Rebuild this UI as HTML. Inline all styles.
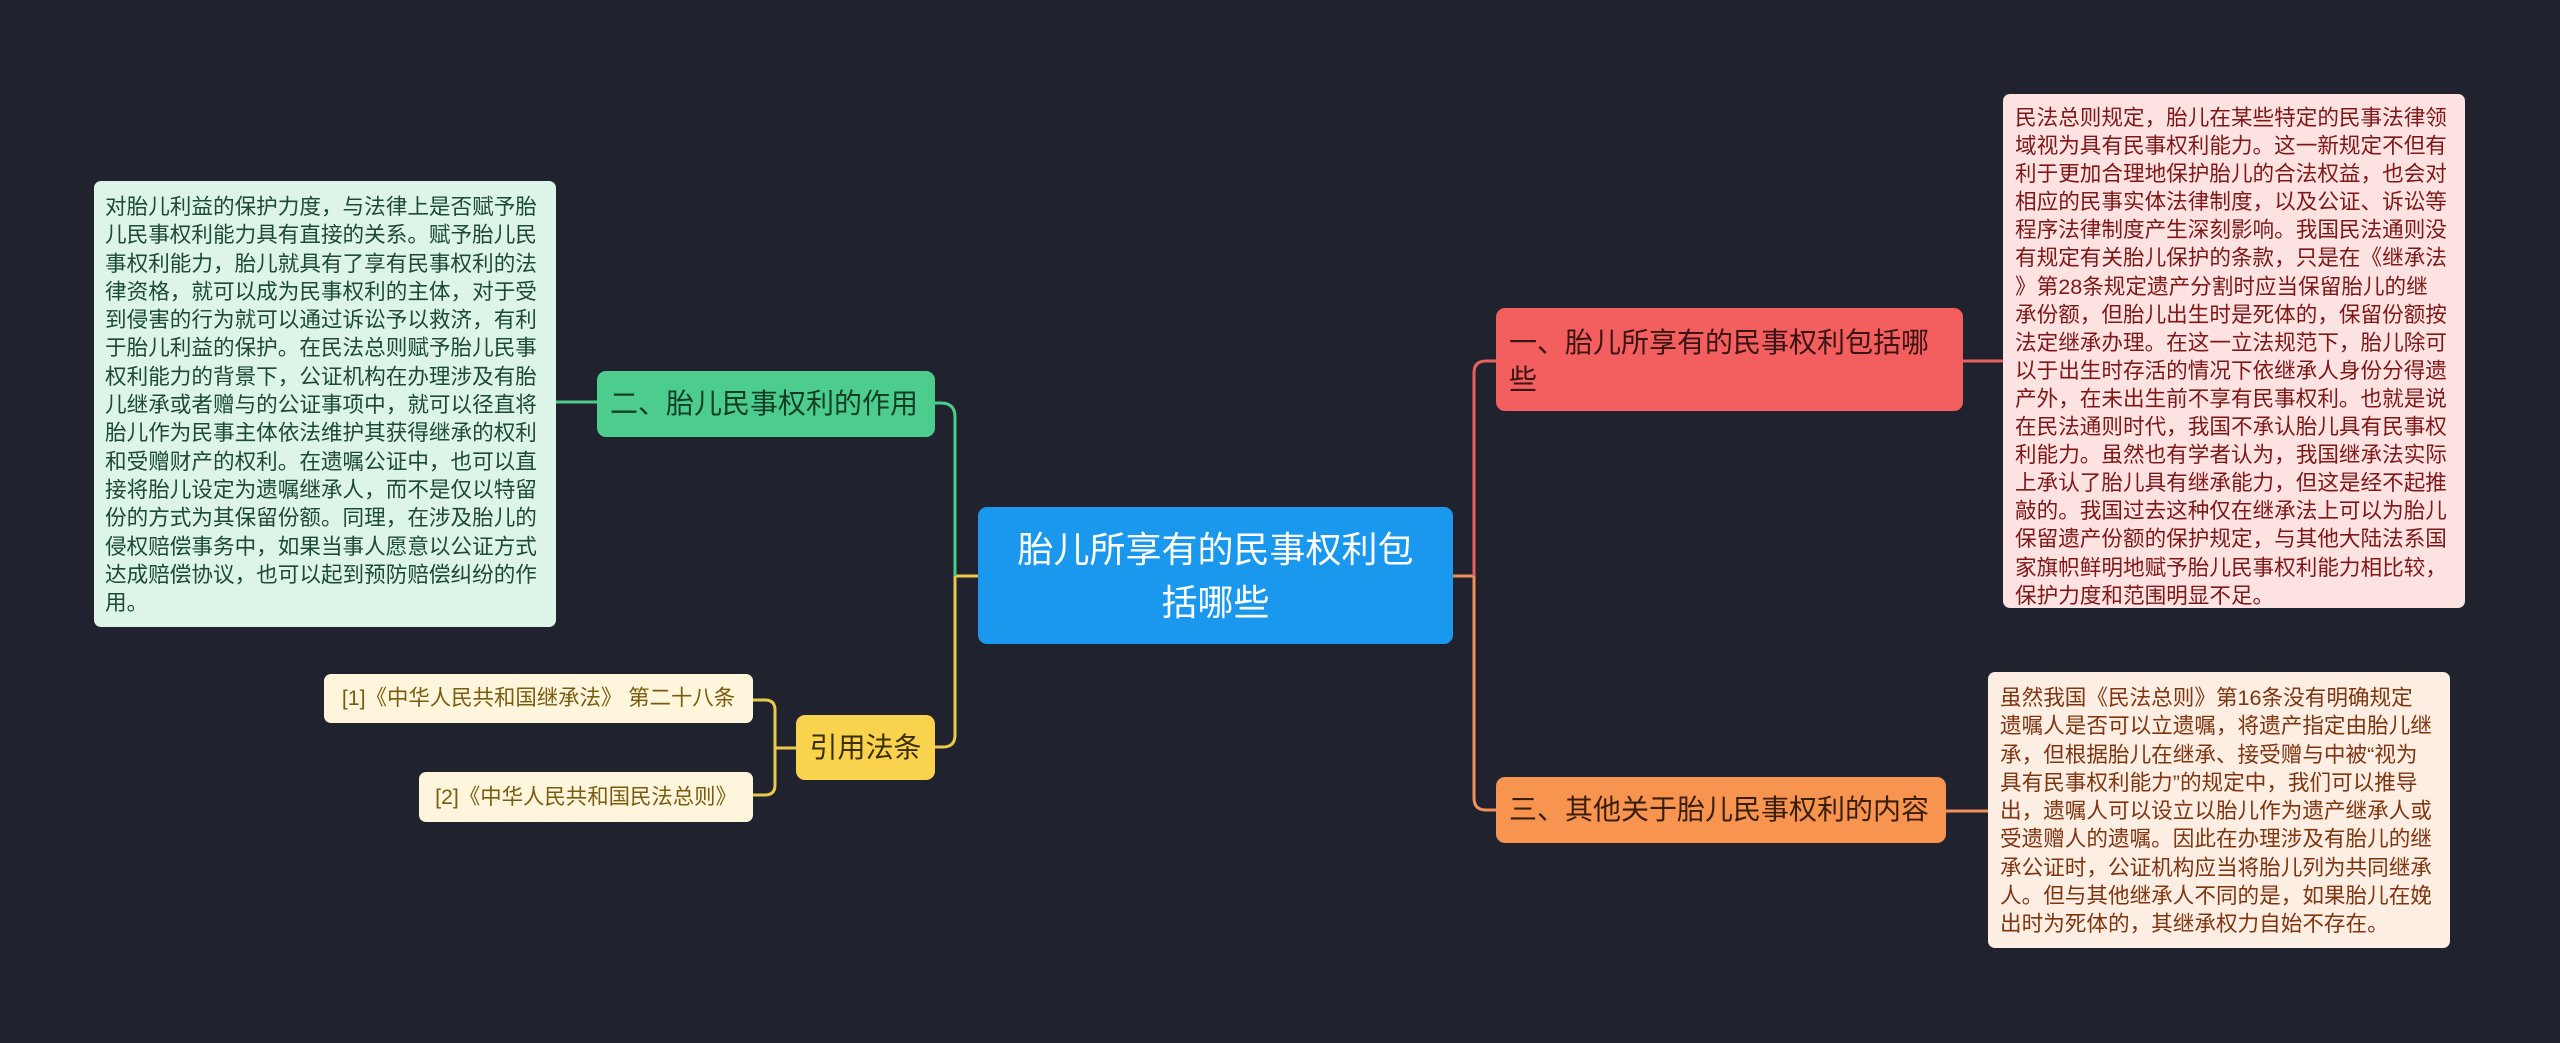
<!DOCTYPE html>
<html><head><meta charset="utf-8">
<style>
html,body{margin:0;padding:0;}
body{width:2560px;height:1043px;background:#20232e;position:relative;overflow:hidden;font-family:"Liberation Sans","Noto Sans CJK SC",sans-serif;}
.n{position:absolute;box-sizing:border-box;border-radius:9px;white-space:nowrap;}
.t{position:absolute;box-sizing:border-box;border-radius:7px;white-space:nowrap;font-size:21.4px;}
.t div{white-space:nowrap;}
.R div{height:28.1px;line-height:28.1px;}
.B div{height:28.3px;line-height:28.3px;}
.L div{height:28.3px;line-height:28.3px;}
svg{position:absolute;left:0;top:0;}
</style></head><body>
<svg width="2560" height="1043" fill="none" stroke-width="3">
<path d="M1453 576 H1474" stroke="#f0915a"/>
<path d="M1474 576 V373 Q1474 361 1486 361 H1496" stroke="#e8615e"/>
<path d="M1474 576 V798 Q1474 810 1486 810 H1496" stroke="#f0915a"/>
<path d="M1963 361 H2003" stroke="#e8615e"/>
<path d="M1946 811 H1988" stroke="#f0915a"/>
<path d="M978 576 H955" stroke="#e8c94a"/>
<path d="M955 576 V417 Q955 403 941 403 H935" stroke="#4ccd8d"/>
<path d="M955 576 V735 Q955 747 943 747 H935" stroke="#e8c94a"/>
<path d="M597 402 H556" stroke="#4ccd8d"/>
<path d="M796 748 H775" stroke="#e8c94a"/>
<path d="M775 748 V710 Q775 700 765 700 H753" stroke="#e8c94a"/>
<path d="M775 748 V785 Q775 795 765 795 H753" stroke="#e8c94a"/>
</svg>

<div class="n" style="left:978px;top:507px;width:475px;height:137px;background:#1a98ee;color:#fff;font-size:36px;line-height:53px;text-align:center;padding-top:16px;">胎儿所享有的民事权利包<br>括哪些</div>

<div class="n" style="left:1496px;top:308px;width:467px;height:103px;background:#f25f5e;color:#3a1414;font-size:28px;line-height:37px;padding:16px 0 0 13px;">一、胎儿所享有的民事权利包括哪<br>些</div>

<div class="n" style="left:1496px;top:777px;width:450px;height:66px;background:#f7944f;color:#3a1e0a;font-size:28px;line-height:66px;padding-left:13px;">三、其他关于胎儿民事权利的内容</div>

<div class="n" style="left:597px;top:371px;width:338px;height:66px;background:#4ccd8d;color:#123d27;font-size:28px;line-height:66px;padding-left:13px;">二、胎儿民事权利的作用</div>

<div class="n" style="left:796px;top:715px;width:139px;height:65px;background:#f9d24e;color:#3a2e05;font-size:28px;line-height:65px;text-align:center;">引用法条</div>

<div class="t" style="left:324px;top:674px;width:429px;height:49px;background:#fdf5dc;color:#7a5c10;line-height:49px;text-align:center;">[1]《中华人民共和国继承法》 第二十八条</div>
<div class="t" style="left:419px;top:772px;width:334px;height:50px;background:#fdf5dc;color:#7a5c10;line-height:50px;text-align:center;">[2]《中华人民共和国民法总则》</div>

<div class="t L" style="left:94px;top:181px;width:462px;height:446px;background:#ddf4e9;color:#1d4a33;font-size:21.6px;padding:12px 0 0 11px;"><div>对胎儿利益的保护力度，与法律上是否赋予胎</div><div>儿民事权利能力具有直接的关系。赋予胎儿民</div><div>事权利能力，胎儿就具有了享有民事权利的法</div><div>律资格，就可以成为民事权利的主体，对于受</div><div>到侵害的行为就可以通过诉讼予以救济，有利</div><div>于胎儿利益的保护。在民法总则赋予胎儿民事</div><div>权利能力的背景下，公证机构在办理涉及有胎</div><div>儿继承或者赠与的公证事项中，就可以径直将</div><div>胎儿作为民事主体依法维护其获得继承的权利</div><div>和受赠财产的权利。在遗嘱公证中，也可以直</div><div>接将胎儿设定为遗嘱继承人，而不是仅以特留</div><div>份的方式为其保留份额。同理，在涉及胎儿的</div><div>侵权赔偿事务中，如果当事人愿意以公证方式</div><div>达成赔偿协议，也可以起到预防赔偿纠纷的作</div><div>用。</div></div>

<div class="t R" style="left:2003px;top:94px;width:462px;height:514px;background:#fde2e2;color:#7e1818;font-size:21.6px;padding:10px 0 0 12px;"><div>民法总则规定，胎儿在某些特定的民事法律领</div><div>域视为具有民事权利能力。这一新规定不但有</div><div>利于更加合理地保护胎儿的合法权益，也会对</div><div>相应的民事实体法律制度，以及公证、诉讼等</div><div>程序法律制度产生深刻影响。我国民法通则没</div><div>有规定有关胎儿保护的条款，只是在《继承法</div><div>》第28条规定遗产分割时应当保留胎儿的继</div><div>承份额，但胎儿出生时是死体的，保留份额按</div><div>法定继承办理。在这一立法规范下，胎儿除可</div><div>以于出生时存活的情况下依继承人身份分得遗</div><div>产外，在未出生前不享有民事权利。也就是说</div><div>在民法通则时代，我国不承认胎儿具有民事权</div><div>利能力。虽然也有学者认为，我国继承法实际</div><div>上承认了胎儿具有继承能力，但这是经不起推</div><div>敲的。我国过去这种仅在继承法上可以为胎儿</div><div>保留遗产份额的保护规定，与其他大陆法系国</div><div>家旗帜鲜明地赋予胎儿民事权利能力相比较，</div><div>保护力度和范围明显不足。</div></div>

<div class="t B" style="left:1988px;top:672px;width:462px;height:276px;background:#fdeee3;color:#7e3510;font-size:21.6px;padding:12px 0 0 12px;"><div>虽然我国《民法总则》第16条没有明确规定</div><div>遗嘱人是否可以立遗嘱，将遗产指定由胎儿继</div><div>承，但根据胎儿在继承、接受赠与中被“视为</div><div>具有民事权利能力”的规定中，我们可以推导</div><div>出，遗嘱人可以设立以胎儿作为遗产继承人或</div><div>受遗赠人的遗嘱。因此在办理涉及有胎儿的继</div><div>承公证时，公证机构应当将胎儿列为共同继承</div><div>人。但与其他继承人不同的是，如果胎儿在娩</div><div>出时为死体的，其继承权力自始不存在。</div></div>
</body></html>
